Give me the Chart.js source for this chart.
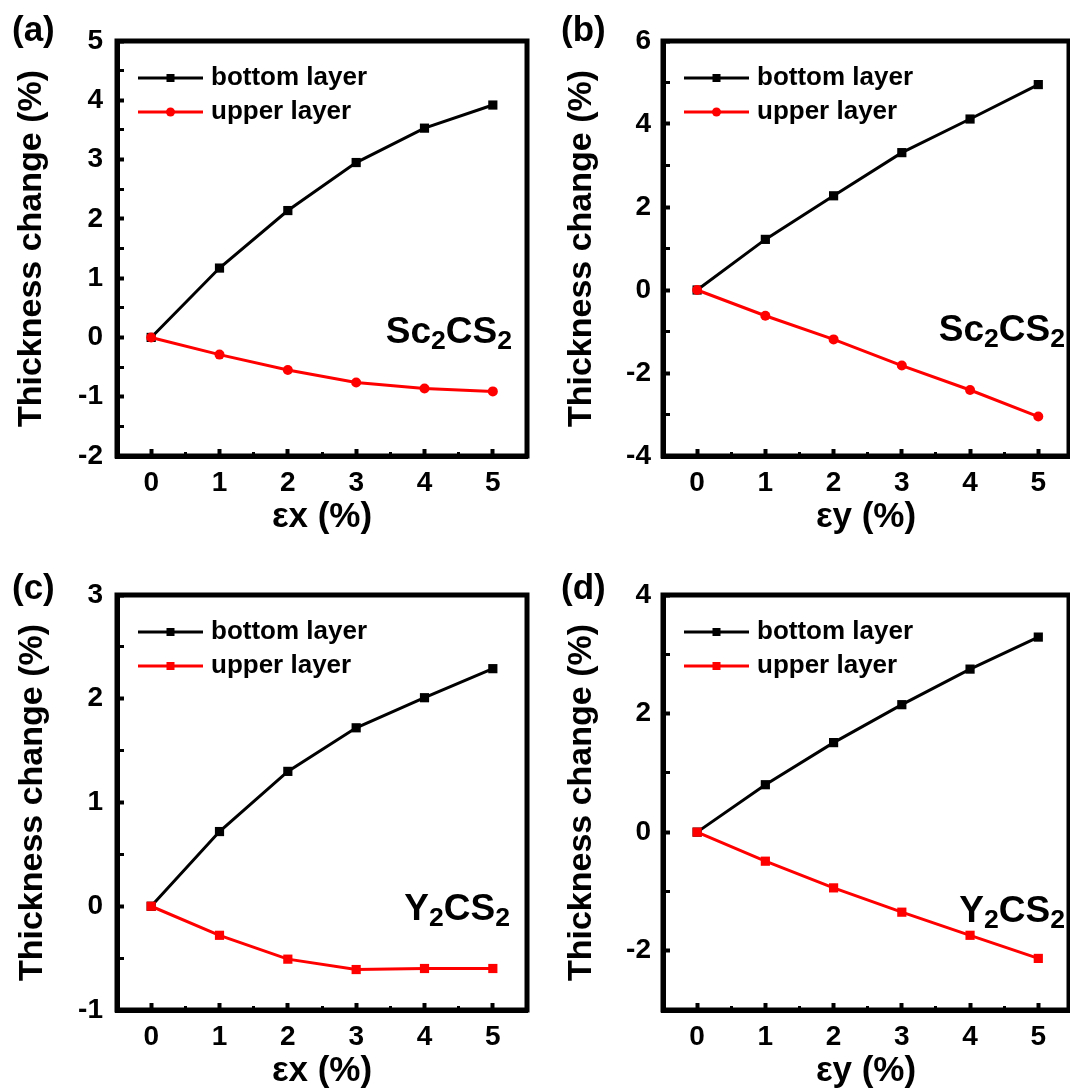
<!DOCTYPE html>
<html>
<head>
<meta charset="utf-8">
<script src="https://cdn.jsdelivr.net/npm/chart.js@4.4.1/dist/chart.umd.min.js"></script>
<style>
  body {
    margin: 0;
    width: 1070px;
    height: 1090px;
    overflow: hidden;
    background: #fff;
    position: relative;
    font-family: 'Liberation Sans', Arial, sans-serif;
    font-weight: bold;
    color: #000;
  }
  canvas { position: absolute; }
  .tag { position: absolute; font-size: 35px; line-height: 35px; }
  .formula { position: absolute; width: 200px; text-align: right; font-size: 37px; line-height: 37px; }
  .formula span { font-size: 0.72em; position: relative; top: 0.22em; }
</style>
</head>
<body>
<canvas id="chartA" width="535" height="545" style="left:0;top:0"></canvas>
<canvas id="chartB" width="545" height="545" style="left:535px;top:0"></canvas>
<canvas id="chartC" width="535" height="545" style="left:0;top:554px"></canvas>
<canvas id="chartD" width="545" height="545" style="left:535px;top:554px"></canvas>

<div class="tag" style="left:12px;top:11px">(a)</div>
<div class="tag" style="left:561px;top:11px">(b)</div>
<div class="tag" style="left:12px;top:569px">(c)</div>
<div class="tag" style="left:561px;top:569px">(d)</div>

<div class="formula" style="left:312px;top:312px">Sc<span>2</span>CS<span>2</span></div>
<div class="formula" style="left:865px;top:310px">Sc<span>2</span>CS<span>2</span></div>
<div class="formula" style="left:310px;top:889px">Y<span>2</span>CS<span>2</span></div>
<div class="formula" style="left:865px;top:891px">Y<span>2</span>CS<span>2</span></div>

<script>
// strain values (%) on the x axis
const strain = [0, 1, 2, 3, 4, 5];
const seriesNames = ["bottom layer", "upper layer"];

// thickness change (%)
const bottomA = [0, 1.17, 2.14, 2.95, 3.53, 3.92];
const upperA = [0, -0.29, -0.55, -0.76, -0.86, -0.91];
const bottomB = [0, 1.22, 2.27, 3.31, 4.12, 4.95];
const upperB = [0, -0.62, -1.19, -1.82, -2.41, -3.05];
const bottomC = [0, 0.72, 1.30, 1.72, 2.01, 2.29];
const upperC = [0, -0.28, -0.51, -0.61, -0.60, -0.60];
const bottomD = [0, 0.80, 1.51, 2.15, 2.75, 3.29];
const upperD = [0, -0.49, -0.94, -1.35, -1.74, -2.13];

// tick labels and minor ticks
const xTicks = [0, 1, 2, 3, 4, 5];
const xMinor = [0.5, 1.5, 2.5, 3.5, 4.5];
const yTicksA = [-2, -1, 0, 1, 2, 3, 4, 5];
const yMinorA = [-1.5, -0.5, 0.5, 1.5, 2.5, 3.5, 4.5];
const yTicksB = [-4, -2, 0, 2, 4, 6];
const yMinorB = [-3, -1, 1, 3, 5];
const yTicksC = [-1, 0, 1, 2, 3];
const yMinorC = [-0.5, 0.5, 1.5, 2.5];
const yTicksD = [-2, 0, 2, 4];
const yMinorD = [-3, -1, 1, 3];

Chart.defaults.font.family = "'Liberation Sans', Arial, sans-serif";
Chart.defaults.font.weight = "bold";
Chart.defaults.color = "#000";

const BOX_TOP = 41;
const BOX_BOTTOM = 456;
const CANVAS_H = 545;

// legend drawn inside the plot box, top left
const insideLegend = {
  id: "insideLegend",
  afterDatasetsDraw(chart) {
    const { ctx, chartArea } = chart;
    ctx.save();
    ctx.font = "bold 26px 'Liberation Sans', Arial, sans-serif";
    ctx.textBaseline = "middle";
    chart.data.datasets.forEach(function (ds, i) {
      const y = chartArea.top + 37 + i * 34;
      const x0 = chartArea.left + 21;
      const x1 = chartArea.left + 86;
      const xm = (x0 + x1) / 2;
      ctx.strokeStyle = ds.borderColor;
      ctx.lineWidth = 3;
      ctx.beginPath();
      ctx.moveTo(x0, y);
      ctx.lineTo(x1, y);
      ctx.stroke();
      ctx.fillStyle = ds.borderColor;
      if (ds.pointStyle === "circle") {
        ctx.beginPath();
        ctx.arc(xm, y, 4.5, 0, Math.PI * 2);
        ctx.fill();
      } else {
        ctx.fillRect(xm - 4, y - 4, 8, 8);
      }
      ctx.fillStyle = "#000";
      ctx.fillText(ds.label, x1 + 8, y);
    });
    ctx.restore();
  },
};

// full black frame round the plot area
const frame = {
  id: "frame",
  afterDraw(chart) {
    const { ctx, chartArea } = chart;
    ctx.save();
    ctx.strokeStyle = "#000";
    ctx.lineWidth = 5;
    ctx.strokeRect(chartArea.left, chartArea.top, chartArea.right - chartArea.left, chartArea.bottom - chartArea.top);
    ctx.restore();
  },
};

function points(values) {
  return strain.map(function (x, i) {
    return { x: x, y: values[i] };
  });
}

function tickGrid(major) {
  return {
    drawOnChartArea: false,
    drawTicks: true,
    tickLength: -7,
    tickColor: "#000",
    tickWidth: function (c) {
      return c.tick && major.includes(c.tick.value) ? 4 : 3;
    },
    tickBorderDash: function (c) {
      return c.tick && major.includes(c.tick.value) ? [] : [7, 100];
    },
  };
}

function makeChart(p) {
  const canvas = document.getElementById(p.id);
  const xAll = xTicks.concat(xMinor).sort((a, b) => a - b);
  const yAll = p.yMajor.concat(p.yMinor).sort((a, b) => a - b);

  return new Chart(canvas.getContext("2d"), {
    type: "line",
    data: {
      datasets: [
        {
          label: seriesNames[0],
          data: points(p.bottom),
          borderColor: "#000000",
          backgroundColor: "#000000",
          borderWidth: 3,
          pointStyle: "rect",
          pointRadius: 6.5,
          pointBorderWidth: 0,
          order: 1,
        },
        {
          label: seriesNames[1],
          data: points(p.upper),
          borderColor: "#ff0000",
          backgroundColor: "#ff0000",
          borderWidth: 3,
          pointStyle: p.upperStyle,
          pointRadius: p.upperStyle === "circle" ? 5 : 6.5,
          pointBorderWidth: 0,
          order: 0,
        },
      ],
    },
    options: {
      responsive: false,
      animation: false,
      events: [],
      layout: {
        padding: { left: 0, top: BOX_TOP, right: canvas.width - p.boxRight, bottom: 0 },
      },
      plugins: {
        legend: { display: false },
        tooltip: { enabled: false },
      },
      scales: {
        x: {
          type: "linear",
          min: -0.5,
          max: p.xMax,
          afterBuildTicks: function (s) {
            s.ticks = xAll.map((v) => ({ value: v }));
          },
          afterFit: function (s) {
            s.height = CANVAS_H - BOX_BOTTOM;
          },
          ticks: {
            autoSkip: false,
            maxRotation: 0,
            padding: 17,
            font: { size: 28, weight: "bold" },
            callback: (v) => (xTicks.includes(v) ? String(v) : ""),
          },
          grid: tickGrid(xTicks),
          border: { display: true, color: "#000", width: 5 },
          title: {
            display: true,
            text: p.xTitle,
            font: { size: 35, weight: "bold" },
            padding: { top: 0, bottom: 7 },
          },
        },
        y: {
          type: "linear",
          min: p.yMin,
          max: p.yMax,
          afterBuildTicks: function (s) {
            s.ticks = yAll.map((v) => ({ value: v }));
          },
          afterFit: function (s) {
            s.width = p.boxLeft;
          },
          ticks: {
            autoSkip: false,
            padding: p.yLabelPad,
            font: { size: 28, weight: "bold" },
            callback: (v) => (p.yMajor.includes(v) ? String(v) : ""),
          },
          grid: tickGrid(p.yMajor),
          border: { display: true, color: "#000", width: 5 },
          title: {
            display: true,
            text: "Thickness change (%)",
            font: { size: 34, weight: "bold" },
            padding: { top: p.yTitlePad, bottom: 0 },
          },
        },
      },
    },
    plugins: [insideLegend, frame],
  });
}

makeChart({ id: "chartA", bottom: bottomA, upper: upperA, upperStyle: "circle", yMin: -2, yMax: 5, yMajor: yTicksA, yMinor: yMinorA, xMax: 5.5, boxLeft: 117, boxRight: 527, xTitle: "εx (%)", yTitlePad: 11, yLabelPad: 21 });
makeChart({ id: "chartB", bottom: bottomB, upper: upperB, upperStyle: "circle", yMin: -4, yMax: 6, yMajor: yTicksB, yMinor: yMinorB, xMax: 5.45, boxLeft: 128, boxRight: 534, xTitle: "εy (%)", yTitlePad: 26, yLabelPad: 19 });
makeChart({ id: "chartC", bottom: bottomC, upper: upperC, upperStyle: "rect", yMin: -1, yMax: 3, yMajor: yTicksC, yMinor: yMinorC, xMax: 5.5, boxLeft: 117, boxRight: 527, xTitle: "εx (%)", yTitlePad: 12, yLabelPad: 21 });
makeChart({ id: "chartD", bottom: bottomD, upper: upperD, upperStyle: "rect", yMin: -3, yMax: 4, yMajor: yTicksD, yMinor: yMinorD, xMax: 5.45, boxLeft: 128, boxRight: 534, xTitle: "εy (%)", yTitlePad: 26, yLabelPad: 19 });
</script>
</body>
</html>
